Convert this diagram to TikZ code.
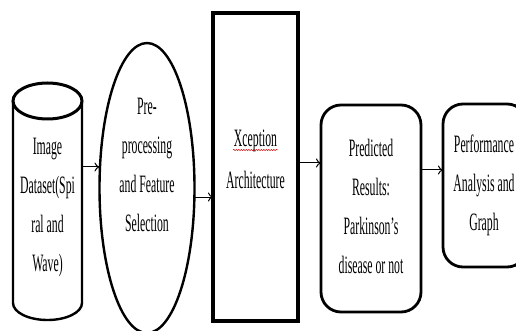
\documentclass[tikz,border=0pt]{standalone}
\usepackage{fontspec}
\setmainfont[FakeStretch=0.47]{Liberation Serif}
\usetikzlibrary{shapes.geometric,decorations.pathmorphing,arrows.meta}
\tikzset{
  x=1pt,y=-1pt,
  lbl/.style={align=center,inner sep=0pt,font=\fontsize{25}{39}\selectfont},
  arr/.style={-{To[length=5pt,width=9pt]},line width=1pt},
  shp/.style={draw,inner sep=0pt,outer sep=0pt},
}
\begin{document}
\begin{tikzpicture}
\useasboundingbox (0,0) rectangle (516,331);
\clip (0,0) rectangle (516,331);
% cylinder
\node[inner sep=0pt,minimum width=69pt,minimum height=237pt] (db) at (47.5,201.5) {};
\draw[line width=2.4pt] (13,101) -- (13,303) arc[start angle=180,end angle=360,x radius=34.5,y radius=-17] -- (82,101);
\draw[line width=3pt] (47.5,101) ellipse[x radius=34.5,y radius=18];
\node[lbl] (dbt) at (47.5,207) {Image\\Dataset(Spi\\ral and\\Wave)};
% ellipse
\node[shp,ellipse,line width=2.4pt,minimum width=95pt,minimum height=290pt] (pre) at (147,188) {};
\node[lbl] (pret) at (147,165) {Pre-\\processing\\and Feature\\Selection};
% Xception rect
\node[shp,rectangle,line width=3.4pt,minimum width=85pt,minimum height=308pt] (xc) at (255.5,167) {};
\node[lbl] (xct) at (255.5,159) {Xception\\[3pt]Architecture};
\draw[red!80!black,line width=0.5pt,decorate,decoration={snake,amplitude=0.6pt,segment length=2.5pt}] (233,150) -- (278,150);
% predicted
\node[shp,rectangle,rounded corners=20pt,line width=2.8pt,minimum width=100pt,minimum height=207pt] (pr) at (371,208.5) {};
\node[lbl] (prt) at (371,206) {Predicted\\Results:\\Parkinson's\\disease or not};
% performance
\node[shp,rectangle,rounded corners=20pt,line width=2.8pt,minimum width=84pt,minimum height=163pt] (pf) at (485,185.5) {};
\node[lbl] (pft) at (484,185) {Performance\\Analysis and\\Graph};
% arrows
\draw[arr] (db.east |- 0,167) -- (pre.west |- 0,167);
\draw[arr] (pre.east |- 0,197) -- (xc.west |- 0,197);
\draw[arr] (xc.east |- 0,163) -- (pr.west |- 0,163);
\draw[arr] (pr.east |- 0,170) -- (pf.west |- 0,170);
\end{tikzpicture}
\end{document}
